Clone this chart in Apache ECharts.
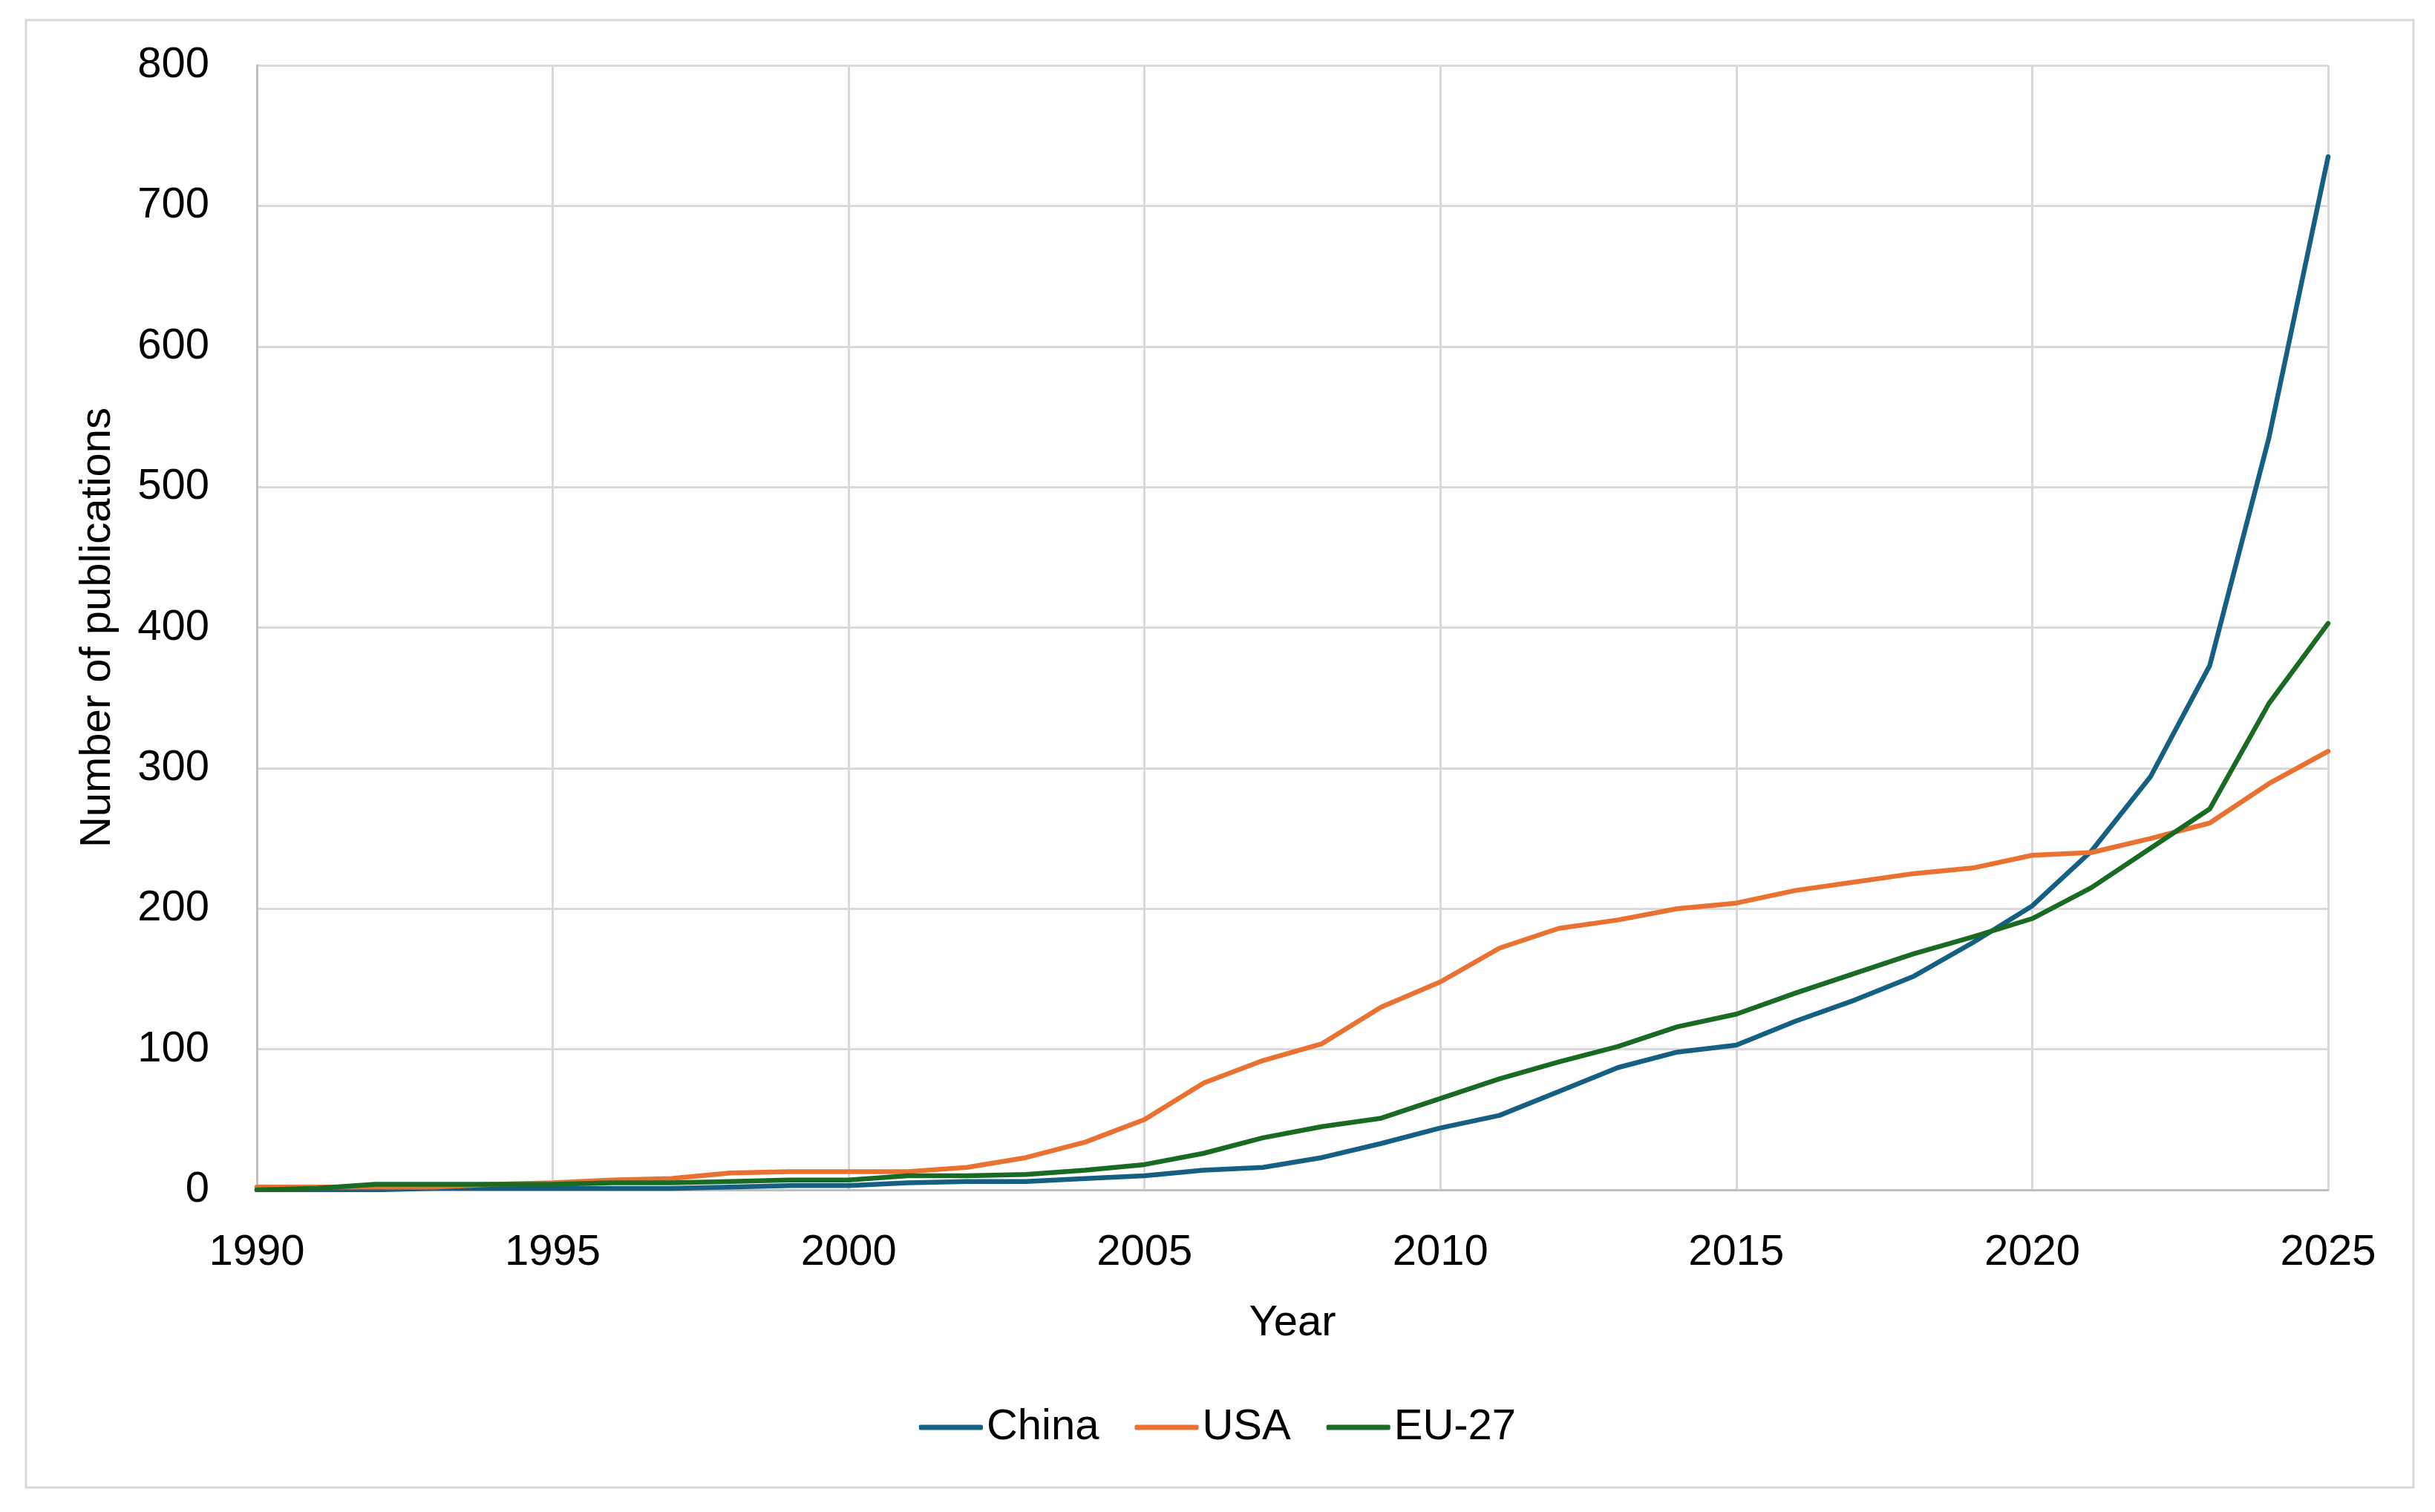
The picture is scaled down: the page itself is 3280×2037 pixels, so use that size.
<!DOCTYPE html>
<html>
<head>
<meta charset="utf-8">
<title>Publications</title>
<script src="https://cdn.jsdelivr.net/npm/echarts/dist/echarts.min.js"></script>
<style>
  html, body { margin: 0; padding: 0; background: #fff; }
  #chart { width: 3280px; height: 2037px; }
</style>
</head>
<body>
<div id="chart"></div>
<script>
var years = [];
for (var y = 1990; y <= 2025; y++) years.push(y);

var china = [0, 0, 0, 1, 1, 1, 1, 1, 2, 3, 3, 5, 6, 6, 8, 10, 14, 16, 23, 33,
             44, 53, 70, 87, 98, 103, 120, 135, 152, 176, 202, 241, 294, 373, 535, 735];
var usa = [2, 2, 2, 2, 4, 5, 7, 8, 12, 13, 13, 13, 16, 23, 34, 50, 76, 92, 104, 130,
           148, 172, 186, 192, 200, 204, 213, 219, 225, 229, 238, 240, 250, 261, 289, 312];
var eu27 = [0, 1, 4, 4, 4, 4, 5, 5, 6, 7, 7, 10, 10, 11, 14, 18, 26, 37, 45, 51,
            65, 79, 91, 102, 116, 125, 140, 154, 168, 180, 193, 215, 243, 271, 346, 403];

var seriesNames = ['China', 'USA', 'EU-27'];
var seriesColors = ['#156082', '#E97132', '#196B24'];
var seriesValues = [china, usa, eu27];

var font = '"Liberation Sans", Arial, sans-serif';

function pairs(values) {
    var out = [];
    for (var i = 0; i < years.length; i++) {
        out.push([years[i], values[i]]);
    }
    return out;
}

var myChart = echarts.init(document.getElementById('chart'));

var series = [];
for (var i = 0; i < seriesNames.length; i++) {
    series.push({
        name: seriesNames[i],
        type: 'line',
        data: pairs(seriesValues[i]),
        showSymbol: false,
        color: seriesColors[i],
        lineStyle: { width: 6.5, color: seriesColors[i], cap: 'round', join: 'round' }
    });
}

var option = {
    animation: false,
    backgroundColor: '#fff',
    textStyle: { fontFamily: font, color: '#000' },
    graphic: [{
        type: 'rect',
        silent: true,
        z: -1,
        shape: { x: 35, y: 27, width: 3216, height: 1977 },
        style: { fill: 'none', stroke: '#D9D9D9', lineWidth: 3 }
    }],
    grid: { left: 346, right: 144, top: 88, bottom: 434, containLabel: false },
    legend: {
        data: seriesNames,
        left: 'center',
        top: 1894,
        padding: 0,
        itemGap: 48,
        itemWidth: 86,
        itemHeight: 7,
        icon: 'roundRect',
        textStyle: { fontFamily: font, fontSize: 58, color: '#000' }
    },
    xAxis: {
        type: 'value',
        min: 1990,
        max: 2025,
        interval: 5,
        name: 'Year',
        nameLocation: 'middle',
        nameGap: 151,
        nameTextStyle: { fontFamily: font, fontSize: 58, color: '#000' },
        axisLine: { show: true, lineStyle: { color: '#BFBFBF', width: 3 } },
        axisTick: { show: false },
        axisLabel: {
            margin: 56,
            fontFamily: font,
            fontSize: 58,
            color: '#000',
            formatter: function (v) { return String(v); }
        },
        splitLine: { show: true, lineStyle: { color: '#D9D9D9', width: 3 } }
    },
    yAxis: {
        type: 'value',
        min: 0,
        max: 800,
        interval: 100,
        name: 'Number of publications',
        nameLocation: 'middle',
        nameGap: 185,
        nameTextStyle: { fontFamily: font, fontSize: 58, color: '#000' },
        axisLine: { show: true, lineStyle: { color: '#BFBFBF', width: 3 } },
        axisTick: { show: false },
        axisLabel: { margin: 64, fontFamily: font, fontSize: 58, color: '#000' },
        splitLine: { show: true, lineStyle: { color: '#D9D9D9', width: 3 } }
    },
    series: series
};

myChart.setOption(option);
</script>
</body>
</html>
